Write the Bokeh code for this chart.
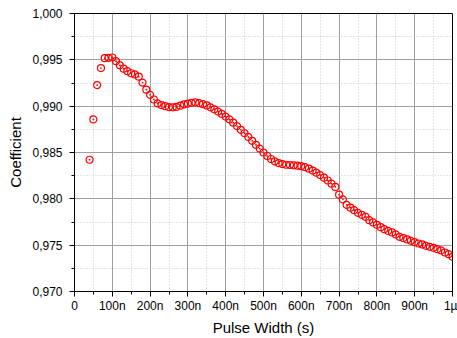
from bokeh.plotting import figure
from bokeh.models import FixedTicker, CustomJSTickFormatter, Range1d
from bokeh.embed import file_html
from bokeh.resources import INLINE

pulse_width_ns = list(range(40, 1001, 10))
coefficient = [
    0.98422, 0.98857, 0.99228, 0.99411, 0.99518, 0.99522, 0.99525, 0.99485,
    0.99442, 0.99405, 0.99378, 0.99355, 0.99342, 0.99318, 0.99255, 0.99178,
    0.99122, 0.99072, 0.99030, 0.99012, 0.99000, 0.98990, 0.98987, 0.98992,
    0.99005, 0.99020, 0.99028, 0.99035, 0.99040, 0.99033, 0.99022, 0.99008,
    0.98988, 0.98966, 0.98942, 0.98916, 0.98888, 0.98858, 0.98822, 0.98785,
    0.98745, 0.98708, 0.98668, 0.98626, 0.98583, 0.98542, 0.98500, 0.98462,
    0.98430, 0.98405, 0.98386, 0.98375, 0.98368, 0.98365, 0.98362, 0.98358,
    0.98352, 0.98342, 0.98325, 0.98305, 0.98282, 0.98256, 0.98228, 0.98198,
    0.98164, 0.98128, 0.98045, 0.97995, 0.97935, 0.97905, 0.97878, 0.97849,
    0.97827, 0.97806, 0.97770, 0.97745, 0.97719, 0.97694, 0.97673, 0.97654,
    0.97637, 0.97616, 0.97590, 0.97576, 0.97562, 0.97547, 0.97532, 0.97518,
    0.97508, 0.97493, 0.97482, 0.97471, 0.97457, 0.97443, 0.97421, 0.97403,
    0.97374,
]

x_ticks = [0, 100, 200, 300, 400, 500, 600, 700, 800, 900, 1000]
x_minor = [50, 150, 250, 350, 450, 550, 650, 750, 850, 950]
y_ticks = [0.970, 0.975, 0.980, 0.985, 0.990, 0.995, 1.000]
y_minor = [0.9725, 0.9775, 0.9825, 0.9875, 0.9925, 0.9975]

p = figure(width=457, height=338, output_backend="svg", toolbar_location=None,
           x_range=Range1d(0, 1000), y_range=Range1d(0.970, 1.000),
           min_border_left=74, min_border_right=5, min_border_top=13,
           min_border_bottom=47)

p.scatter(pulse_width_ns, coefficient, marker="circle_dot", size=7,
          line_color="#ff0000", fill_color=None, line_width=1.2)

FONT = "Liberation Sans"
for ax in (p.xaxis, p.yaxis):
    ax.axis_line_color = "black"
    ax.major_tick_line_color = "black"
    ax.minor_tick_line_color = "black"
    ax.major_tick_out = 5
    ax.major_tick_in = 0
    ax.minor_tick_out = 3
    ax.minor_tick_in = 0
    ax.major_label_text_font = FONT
    ax.major_label_text_font_size = "12px"
    ax.major_label_text_color = "black"
    ax.axis_label_text_font = FONT
    ax.axis_label_text_font_size = "15px"
    ax.axis_label_text_font_style = "normal"
    ax.axis_label_text_color = "black"

p.xaxis.ticker = FixedTicker(ticks=x_ticks, minor_ticks=x_minor)
p.yaxis.ticker = FixedTicker(ticks=y_ticks, minor_ticks=y_minor)
p.xaxis.formatter = CustomJSTickFormatter(code="""
    if (tick == 0) return '0';
    if (tick >= 1000) return '1\u00b5';
    return Math.round(tick) + 'n';
""")
p.yaxis.formatter = CustomJSTickFormatter(code="""
    return tick.toFixed(3).replace('.', ',');
""")
p.xaxis.axis_label = "Pulse Width (s)"
p.yaxis.axis_label = "Coefficient"
p.xaxis.major_label_standoff = 2
p.yaxis.major_label_standoff = 7
p.xaxis.axis_label_standoff = 3
p.yaxis.axis_label_standoff = 5

for g in (p.xgrid, p.ygrid):
    g.grid_line_color = "#a0a0a0"
    g.grid_line_width = 1
    g.minor_grid_line_color = "#c8c8c8"
    g.minor_grid_line_dash = "1 2"
    g.minor_grid_line_width = 1

p.outline_line_color = "black"
p.outline_line_width = 1
p.background_fill_color = "white"
p.border_fill_color = "white"

open("out.html", "w").write(file_html(p, INLINE))
